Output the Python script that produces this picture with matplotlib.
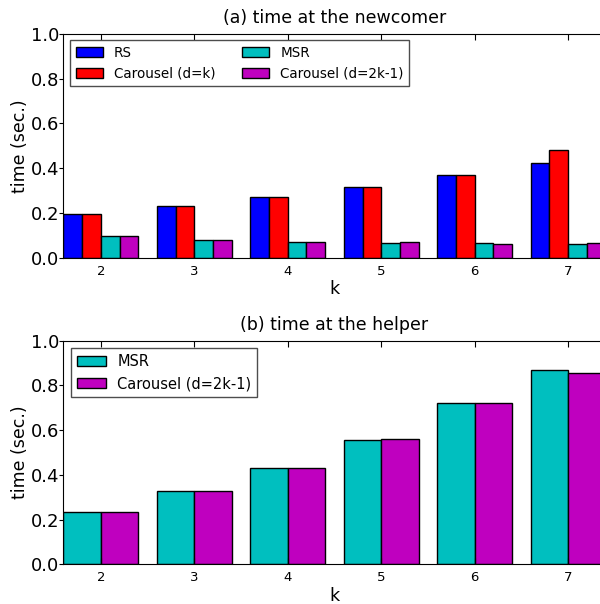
import numpy as np
import matplotlib
matplotlib.use("Agg")
import matplotlib.pyplot as plt


K_VALUES = [2, 3, 4, 5, 6, 7]

# (a) time at the newcomer
NEWCOMER_RS = [0.194, 0.229, 0.271, 0.317, 0.371, 0.421]
NEWCOMER_CAROUSEL_K = [0.194, 0.229, 0.271, 0.317, 0.369, 0.482]
NEWCOMER_MSR = [0.098, 0.079, 0.069, 0.064, 0.066, 0.060]
NEWCOMER_CAROUSEL_2K = [0.098, 0.079, 0.068, 0.069, 0.061, 0.064]

# (b) time at the helper
HELPER_MSR = [0.232, 0.326, 0.429, 0.554, 0.720, 0.867]
HELPER_CAROUSEL_2K = [0.232, 0.326, 0.429, 0.561, 0.720, 0.857]

BLUE = (0.0, 0.0, 1.0)
RED = (1.0, 0.0, 0.0)
CYAN = (0.0, 0.75, 0.75)
MAGENTA = (0.75, 0.0, 0.75)

plt.rcParams["font.family"] = ["DejaVu Sans"]

LEGEND_KW = dict(
    loc="upper left",
    fancybox=False,
    framealpha=1.0,
    edgecolor="0.3",
    handlelength=2.0,
    handleheight=0.7,
    handletextpad=0.8,
    labelspacing=0.5,
    columnspacing=2.0,
    borderpad=0.4,
    borderaxespad=0.5,
)


def style_axes(ax, title):
    ax.set_xlim(0, 5.8)
    ax.set_ylim(0, 1.0)
    ax.set_yticks(np.arange(0, 1.01, 0.2))
    ax.set_yticklabels(["%.1f" % v for v in np.arange(0, 1.01, 0.2)])
    ax.set_xticks(np.arange(len(K_VALUES)) + 0.4)
    ax.set_xticklabels([str(k) for k in K_VALUES])
    ax.tick_params(axis="x", direction="in", top=True, bottom=True,
                   length=4, labelsize=9.5, pad=5)
    ax.tick_params(axis="y", direction="out", left=True, right=False,
                   length=3, labelsize=13, pad=0)
    ax.set_xlabel("k", fontsize=12.5, labelpad=2)
    ax.set_ylabel("time (sec.)", fontsize=12.5, labelpad=1)
    ax.set_title(title, fontsize=12.5, pad=8)


def plot_newcomer(ax):
    x = np.arange(len(K_VALUES))
    w = 0.2
    series = [
        (NEWCOMER_RS, BLUE, "RS"),
        (NEWCOMER_CAROUSEL_K, RED, "Carousel (d=k)"),
        (NEWCOMER_MSR, CYAN, "MSR"),
        (NEWCOMER_CAROUSEL_2K, MAGENTA, "Carousel (d=2k-1)"),
    ]
    for i, (vals, color, label) in enumerate(series):
        ax.bar(x + i * w, vals, w, align="edge", color=color,
               edgecolor="black", linewidth=1.0, label=label)
    style_axes(ax, "(a) time at the newcomer")
    ax.legend(ncol=2, fontsize=9.75, **LEGEND_KW)


def plot_helper(ax):
    x = np.arange(len(K_VALUES))
    w = 0.4
    ax.bar(x, HELPER_MSR, w, align="edge", color=CYAN,
           edgecolor="black", linewidth=1.0, label="MSR")
    ax.bar(x + w, HELPER_CAROUSEL_2K, w, align="edge", color=MAGENTA,
           edgecolor="black", linewidth=1.0, label="Carousel (d=2k-1)")
    style_axes(ax, "(b) time at the helper")
    ax.legend(ncol=1, fontsize=10.5, **LEGEND_KW)


if __name__ == "__main__":

    fig = plt.figure(figsize=(6.0, 6.04), dpi=100)
    fig.patch.set_facecolor("white")

    ax_top = fig.add_axes([0.1058, 0.5733, 0.9033, 0.3709])
    ax_bot = fig.add_axes([0.1058, 0.0657, 0.9033, 0.3702])

    plot_newcomer(ax_top)
    plot_helper(ax_bot)

    fig.savefig("out.png", dpi=100, facecolor="white")
